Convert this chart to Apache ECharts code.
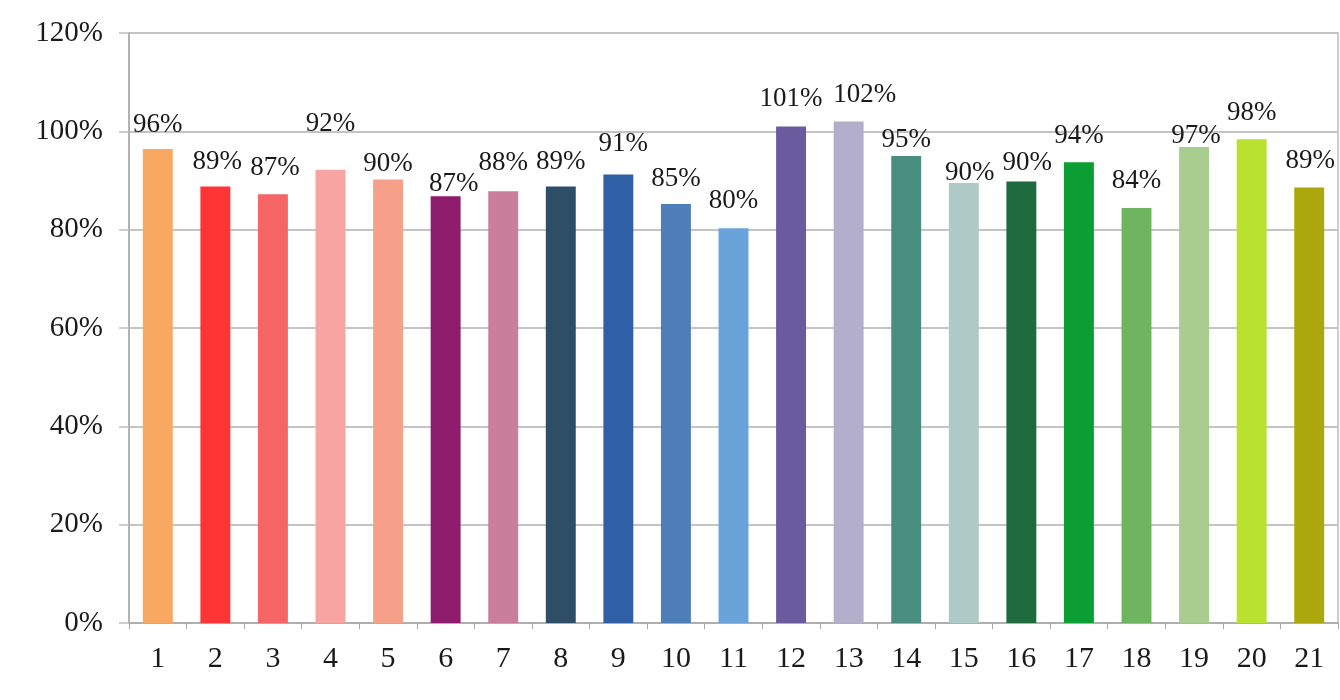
<!DOCTYPE html>
<html>
<head>
<meta charset="utf-8">
<script src="https://cdn.jsdelivr.net/npm/echarts@6/dist/echarts.min.js"></script>
<style>
html,body{margin:0;padding:0;background:#fff;}
#chart{width:1340px;height:700px;}
</style>
</head>
<body>
<div id="chart"></div>
<script>
// ---- data ----
const categories = ['1','2','3','4','5','6','7','8','9','10','11','12','13','14','15','16','17','18','19','20','21'];
const values = [0.964, 0.888, 0.872, 0.922, 0.902, 0.868, 0.878, 0.888, 0.912, 0.852, 0.803,
                1.010, 1.020, 0.950, 0.895, 0.898, 0.937, 0.844, 0.968, 0.984, 0.886];
const yTicks = [0, 0.2, 0.4, 0.6, 0.8, 1.0, 1.2];

// ---- styles ----
const barColors = ['#F9A862','#FF3434','#F56565','#F7A4A3','#F6A08A','#8E1B6B','#C97F9B',
                   '#2E4D66','#2F5FA4','#4E7FB8','#6AA3DA','#6A5A9E','#B3AFCB','#4A8E82',
                   '#AFC9C6','#1E6B3F','#0A9E35','#6FB55F','#A9CD8E','#B8E22F','#ABA80E'];
const labelDx = [0,2,2,0,0,8,0,0,5,0,0,0,16,0,6,6,0,0,2,0,1];
const labelDy = [2,2,0,-19,11,14,-2,2,-4,1,-1,-1,0,10,16,8,0,-1,15,0,0];

const font = '"Liberation Serif", "DejaVu Serif", serif';

const chart = echarts.init(document.getElementById('chart'), null, {renderer: 'canvas'});
chart.setOption({
  animation: false,
  backgroundColor: '#ffffff',
  grid: {
    left: 129, right: 2, top: 33, bottom: 77,
    show: true, borderColor: '#bdbdbd', borderWidth: 1.5
  },
  xAxis: {
    type: 'category',
    data: categories,
    axisLine: {lineStyle: {color: '#a8a8a8', width: 1.5}},
    axisTick: {show: true, inside: false, length: 6, alignWithLabel: false, lineStyle: {color: '#a8a8a8'}},
    axisLabel: {color: '#1a1a1a', fontFamily: font, fontSize: 30, margin: 21}
  },
  yAxis: {
    type: 'value',
    min: yTicks[0], max: yTicks[yTicks.length - 1], interval: 0.2,
    axisLine: {show: true, lineStyle: {color: '#a8a8a8', width: 1.5}},
    axisTick: {show: true, length: 10, lineStyle: {color: '#bdbdbd', width: 1.5}},
    splitLine: {show: true, lineStyle: {color: '#c4c4c4', width: 2}},
    axisLabel: {
      color: '#1a1a1a', fontFamily: font, fontSize: 29, margin: 26,
      formatter: v => Math.round(v * 100) + '%'
    }
  },
  series: [{
    type: 'bar',
    barWidth: '52%',
    data: values.map((v, i) => ({
      value: v,
      itemStyle: {color: barColors[i]},
      label: {offset: [labelDx[i], labelDy[i]]}
    })),
    label: {
      show: true,
      position: 'top',
      distance: 13,
      color: '#1a1a1a',
      fontFamily: font,
      fontSize: 27,
      formatter: p => Math.round(p.value * 100) + '%'
    }
  }]
});
</script>
</body>
</html>
